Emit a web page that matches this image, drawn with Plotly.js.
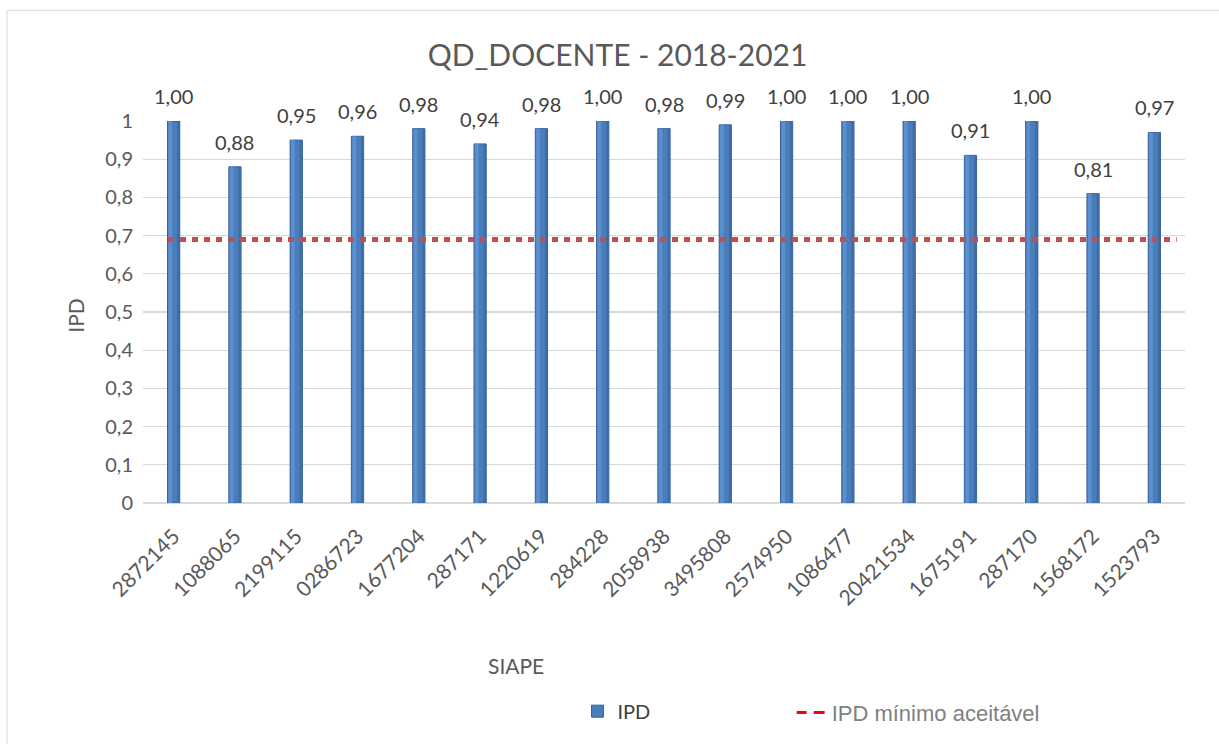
<!DOCTYPE html>
<html>
<head>
<meta charset="utf-8">
<script src="https://cdn.plot.ly/plotly-3.0.1.min.js"></script>
<style>body{margin:0;background:#fff}#chart{width:1219px;height:744px}</style>
</head>
<body>
<div id="chart"></div>
<script>
const siape = ['2872145','1088065','2199115','0286723','1677204','287171','1220619','284228','2058938','3495808','2574950','1086477','20421534','1675191','287170','1568172','1523793'];
const ipd = [1.00,0.88,0.95,0.96,0.98,0.94,0.98,1.00,0.98,0.99,1.00,1.00,1.00,0.91,1.00,0.81,0.97];
const ipdMinimo = 0.69;
const yTickVals = [0,0.1,0.2,0.3,0.4,0.5,0.6,0.7,0.8,0.9,1];
const yTickText = ['0','0,1','0,2','0,3','0,4','0,5','0,6','0,7','0,8','0,9','1'];
const chartTitle = 'QD_DOCENTE - 2018-2021';
const xTitle = 'SIAPE';
const yTitle = 'IPD';
const seriesName = 'IPD';
const lineName = 'IPD mínimo aceitável';

const fmt = v => v.toFixed(2).replace('.', ',');
const TXT = '#595959';
const FONT = 'Lato, "Open Sans", sans-serif';

const bars = {
  type: 'bar', x: siape, y: ipd, name: seriesName, width: 0.2,
  marker: {color: '#4A7EBB', line: {color: '#37639A', width: 1}},
  legend: 'legend', hoverinfo: 'x+y'
};
// cylinder shading strips (same data, decorative)
const shadeLight = {
  type: 'bar', x: siape, y: ipd, width: 0.06, offset: -0.085, showlegend: false,
  marker: {color: '#5B8FD0', line: {width: 0}}, hoverinfo: 'skip'
};
const shadeDark = {
  type: 'bar', x: siape, y: ipd, width: 0.035, offset: 0.058, showlegend: false,
  marker: {color: '#3E6CA6', line: {width: 0}}, hoverinfo: 'skip'
};
const legendLine = {
  type: 'scatter', mode: 'lines', x: [siape[0]], y: [null], name: lineName,
  line: {color: '#FF0000', width: 3, dash: '10px,7px,11px,200px'}, legend: 'legend2'
};

// category index positions for labels (avoid numeric-string ambiguity)
const labels = siape.map((s, i) => ({
  x: i, y: ipd[i], xref: 'x', yref: 'y', text: fmt(ipd[i]), showarrow: false,
  yanchor: 'bottom', yshift: 11, font: {family: FONT, size: 20, color: '#404040'}
}));

const layout = {
  width: 1219, height: 744,
  margin: {l: 143, r: 34, t: 121, b: 240},
  paper_bgcolor: '#fff', plot_bgcolor: '#fff',
  separators: ',.',
  barmode: 'overlay',
  title: {text: chartTitle, x: 0.5066, xref: 'container', xanchor: 'center',
          y: 0.925, yref: 'container', yanchor: 'middle',
          font: {family: FONT, size: 30, color: TXT}},
  xaxis: {type: 'category', tickangle: -45, showgrid: false, zeroline: false, showline: false,
          ticks: '', ticklabelstandoff: 16, tickfont: {family: FONT, size: 21, color: TXT}},
  yaxis: {range: [0, 1], tickvals: yTickVals, ticktext: yTickText, showgrid: true,
          gridcolor: '#D9D9D9', gridwidth: 1.3, zeroline: true, zerolinecolor: '#D9D9D9', zerolinewidth: 1.3,
          showline: false, ticks: '', ticklabelstandoff: 9, tickfont: {family: FONT, size: 20, color: TXT}},
  showlegend: true,
  legend: {x: 0.417, y: -0.49, xanchor: 'left', yanchor: 'top', orientation: 'h',
           font: {family: FONT, size: 20, color: '#404040'}, bgcolor: 'rgba(0,0,0,0)'},
  legend2: {x: 0.6225, y: -0.49, xanchor: 'left', yanchor: 'top', orientation: 'h',
           font: {family: '"Liberation Sans", Arial, sans-serif', size: 22, color: '#808080'}, bgcolor: 'rgba(0,0,0,0)'},
  annotations: labels.concat([
    {text: xTitle, xref: 'paper', yref: 'paper', x: 0.3584, y: -0.4256, showarrow: false,
     xanchor: 'center', yanchor: 'middle', font: {family: FONT, size: 21, color: TXT}},
    {text: yTitle, xref: 'paper', yref: 'paper', x: -0.0644, y: 0.49, showarrow: false, textangle: -90,
     xanchor: 'center', yanchor: 'middle', font: {family: FONT, size: 21, color: TXT}}
  ]),
  shapes: [
    {type: 'line', xref: 'paper', yref: 'y', x0: 0.024, x1: 0.992, y0: ipdMinimo, y1: ipdMinimo,
     line: {color: '#C0504D', width: 5, dash: '6px,6px'}, layer: 'above'},
    {type: 'rect', xref: 'paper', yref: 'paper', x0: -0.1305, x1: 1.2, y0: 1.2898, y1: -0.8,
     line: {color: '#D9D9D9', width: 1}, fillcolor: 'rgba(0,0,0,0)', layer: 'below'}
  ]
};

Plotly.newPlot('chart', [bars, shadeLight, shadeDark, legendLine], layout, {displayModeBar: false, staticPlot: true});
</script>
</body>
</html>
